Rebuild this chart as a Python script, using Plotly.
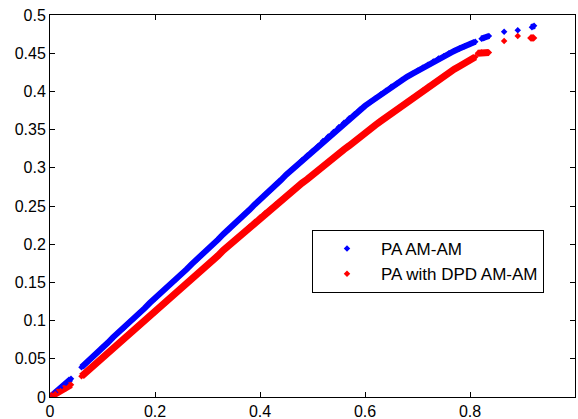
import plotly.graph_objects as go

# PA AM-AM (blue); None marks the small gap near the origin
pa_x = [0.0, 0.01, 0.02, 0.03, 0.04, None,
        0.06, 0.07, 0.08, 0.09, 0.10, 0.11, 0.12, 0.13, 0.14, 0.15, 0.16, 0.17, 0.18, 0.19,
        0.20, 0.21, 0.22, 0.23, 0.24, 0.25, 0.26, 0.27, 0.28, 0.29, 0.30, 0.31, 0.32, 0.33,
        0.34, 0.35, 0.36, 0.37, 0.38, 0.39, 0.40, 0.41, 0.42, 0.43, 0.44, 0.45, 0.46, 0.47,
        0.48, 0.49, 0.50, 0.51, 0.52, 0.53, 0.54, 0.55, 0.56, 0.57, 0.58, 0.59, 0.60, 0.61,
        0.62, 0.63, 0.64, 0.65, 0.66, 0.67, 0.68, 0.69, 0.70, 0.71, 0.72, 0.73, 0.74, 0.75,
        0.76, 0.77, 0.78, 0.79, 0.80, 0.81, None,
        0.822, 0.826, 0.836, None, 0.865, None, 0.891, None, 0.918, 0.922]
pa_y = [0.0, 0.006, 0.012, 0.018, 0.024, None,
        0.039, 0.045, 0.052, 0.058, 0.065, 0.071, 0.078, 0.084, 0.090, 0.097, 0.103, 0.110, 0.116, 0.123,
        0.129, 0.135, 0.142, 0.148, 0.154, 0.161, 0.167, 0.174, 0.180, 0.187, 0.193, 0.200, 0.206, 0.213,
        0.219, 0.226, 0.232, 0.239, 0.245, 0.252, 0.258, 0.265, 0.271, 0.278, 0.284, 0.291, 0.297, 0.303,
        0.310, 0.316, 0.322, 0.328, 0.335, 0.341, 0.347, 0.353, 0.359, 0.365, 0.370, 0.376, 0.381, 0.386,
        0.391, 0.396, 0.401, 0.406, 0.410, 0.415, 0.419, 0.423, 0.427, 0.431, 0.435, 0.439, 0.443, 0.446,
        0.450, 0.453, 0.456, 0.459, 0.462, 0.465, None,
        0.469, 0.470, 0.4725, None, 0.478, None, 0.480, None, 0.484, 0.486]

# PA with DPD AM-AM (red)
dpd_x = [0.0, 0.01, 0.02, 0.03, 0.04, None,
         0.06, 0.07, 0.08, 0.09, 0.10, 0.11, 0.12, 0.13, 0.14, 0.15, 0.16, 0.17, 0.18, 0.19,
         0.20, 0.21, 0.22, 0.23, 0.24, 0.25, 0.26, 0.27, 0.28, 0.29, 0.30, 0.31, 0.32, 0.33,
         0.34, 0.35, 0.36, 0.37, 0.38, 0.39, 0.40, 0.41, 0.42, 0.43, 0.44, 0.45, 0.46, 0.47,
         0.48, 0.49, 0.50, 0.51, 0.52, 0.53, 0.54, 0.55, 0.56, 0.57, 0.58, 0.59, 0.60, 0.61,
         0.62, 0.63, 0.64, 0.65, 0.66, 0.67, 0.68, 0.69, 0.70, 0.71, 0.72, 0.73, 0.74, 0.75,
         0.76, 0.77, 0.78, 0.79, 0.80, 0.81, None,
         0.815, 0.822, 0.836, None, 0.865, None, 0.891, None, 0.915, 0.922]
dpd_y = [0.0, 0.004, 0.008, 0.011, 0.016, None,
         0.027, 0.033, 0.039, 0.045, 0.051, 0.057, 0.063, 0.069, 0.075, 0.081, 0.087, 0.093, 0.099, 0.105,
         0.111, 0.117, 0.123, 0.130, 0.136, 0.142, 0.148, 0.154, 0.161, 0.167, 0.173, 0.179, 0.185, 0.192,
         0.198, 0.204, 0.210, 0.216, 0.223, 0.229, 0.235, 0.241, 0.246, 0.252, 0.257, 0.263, 0.268, 0.274,
         0.280, 0.285, 0.291, 0.296, 0.302, 0.307, 0.313, 0.319, 0.324, 0.329, 0.335, 0.340, 0.345, 0.351,
         0.356, 0.361, 0.366, 0.371, 0.376, 0.381, 0.386, 0.391, 0.396, 0.401, 0.406, 0.410, 0.415, 0.420,
         0.424, 0.429, 0.433, 0.437, 0.441, 0.445, None,
         0.450, 0.451, 0.451, None, 0.466, None, 0.4725, None, 0.470, 0.470]

x_ticks = [0, 0.2, 0.4, 0.6, 0.8, 1]
x_labels = ['0', '0.2', '0.4', '0.6', '0.8', '1']
y_ticks = [0, 0.05, 0.1, 0.15, 0.2, 0.25, 0.3, 0.35, 0.4, 0.45, 0.5]
y_labels = ['0', '0.05', '0.1', '0.15', '0.2', '0.25', '0.3', '0.35', '0.4', '0.45', '0.5']

font = 'Liberation Sans, Arial, sans-serif'

fig = go.Figure()

# thick band under the dots so the dense point cloud reads as one stroke
fig.add_trace(go.Scatter(x=pa_x, y=pa_y, mode='lines', line=dict(color='#0000FF', width=6),
                         showlegend=False, hoverinfo='skip'))
fig.add_trace(go.Scatter(x=dpd_x, y=dpd_y, mode='lines', line=dict(color='#FF0000', width=7),
                         showlegend=False, hoverinfo='skip'))

fig.add_trace(go.Scatter(x=pa_x, y=pa_y, mode='markers', name='PA AM-AM',
                         marker=dict(color='#0000FF', size=5, symbol='diamond')))
fig.add_trace(go.Scatter(x=dpd_x, y=dpd_y, mode='markers', name='PA with DPD AM-AM',
                         marker=dict(color='#FF0000', size=5, symbol='diamond')))

fig.update_xaxes(range=[0, 1], tickvals=x_ticks, ticktext=x_labels,
                 showline=True, linecolor='black', linewidth=1, mirror='ticks',
                 ticks='inside', ticklen=5, tickcolor='black', showgrid=False, zeroline=False,
                 tickfont=dict(size=16, color='black'), automargin=False)
fig.update_yaxes(range=[0, 0.5], tickvals=y_ticks, ticktext=y_labels,
                 showline=True, linecolor='black', linewidth=1, mirror='ticks',
                 ticks='inside', ticklen=5, tickcolor='black', showgrid=False, zeroline=False,
                 tickfont=dict(size=16, color='black'), automargin=False)

fig.update_layout(
    width=578, height=419,
    margin=dict(l=50, r=3, t=15, b=22),
    plot_bgcolor='white', paper_bgcolor='white',
    font=dict(family=font, color='black'),
    legend=dict(x=0.499, y=0.437, xanchor='left', yanchor='top',
                bgcolor='white', bordercolor='black', borderwidth=1,
                font=dict(size=17, color='black'), itemwidth=58,
                tracegroupgap=0),
)

# drop the browser's default 8px body margin so the figure sits at the page corner
fig.write_html("out.html", config={'displayModeBar': False},
               post_script="document.body.style.margin='0';")
